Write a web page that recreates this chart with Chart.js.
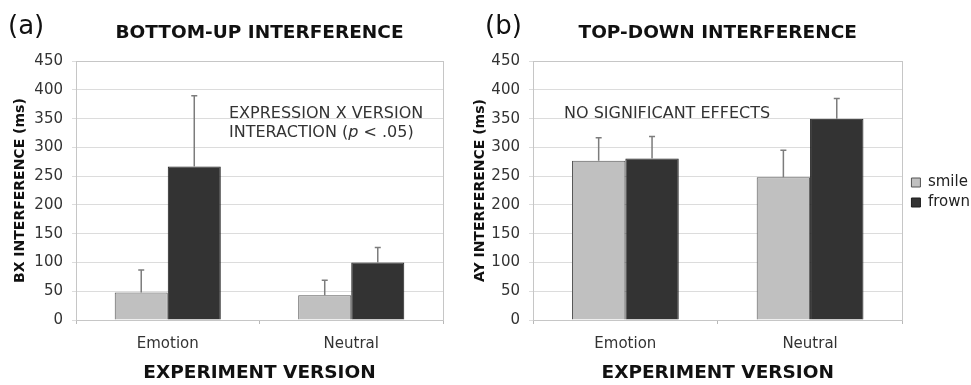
<!DOCTYPE html>
<html>
<head>
<meta charset="utf-8">
<script src="https://cdn.jsdelivr.net/npm/chart.js@4/dist/chart.umd.min.js"></script>
<style>
  html, body { margin: 0; padding: 0; background: #fff; overflow: hidden; width: 971px; height: 385px; }
  .panel { position: absolute; top: 0; height: 385px; }
  #pa { left: 0; width: 460px; }
  #pb { left: 460px; width: 540px; }
</style>
</head>
<body>
<div class="panel" id="pa"><canvas id="ca"></canvas></div>
<div class="panel" id="pb"><canvas id="cb"></canvas></div>
<script>
// Experiment versions on the x axis
const versions = ['Emotion', 'Neutral'];
const expressions = ['smile', 'frown'];

// (a) Bottom-up (BX) interference, ms, with upper error
const bxSmile = [48, 43];
const bxFrown = [267, 100];
const bxSmileErr = [39, 26];
const bxFrownErr = [123, 26];

// (b) Top-down (AY) interference, ms, with upper error
const aySmile = [277, 248];
const ayFrown = [281, 350];
const aySmileErr = [40, 47];
const ayFrownErr = [38, 35];

// Shared value axis
const yMin = 0;
const yMax = 450;
const yStep = 50;

Chart.defaults.font.family = "'DejaVu Sans', Verdana, sans-serif";
Chart.defaults.color = '#333';

const SMILE_FILL = '#c0c0c0', SMILE_EDGE = '#555555';
const FROWN_FILL = '#333333', FROWN_EDGE = '#1c1c1c';

// Upper-only error whiskers with a short cap
const errorBars = {
  id: 'errorBars',
  afterDatasetsDraw(chart) {
    const ctx = chart.ctx;
    const y = chart.scales.y;
    ctx.save();
    ctx.strokeStyle = '#7c7c7c';
    ctx.lineWidth = 1.5;
    chart.data.datasets.forEach((ds, di) => {
      const meta = chart.getDatasetMeta(di);
      meta.data.forEach((bar, i) => {
        const top = y.getPixelForValue(ds.data[i] + ds.errors[i]);
        ctx.beginPath();
        ctx.moveTo(bar.x, bar.y);
        ctx.lineTo(bar.x, top);
        ctx.moveTo(bar.x - 3, top);
        ctx.lineTo(bar.x + 3, top);
        ctx.stroke();
      });
    });
    ctx.restore();
  }
};

// Grey frame around the plotting area
const plotFrame = {
  id: 'plotFrame',
  beforeDatasetsDraw(chart) {
    const {ctx, chartArea: a} = chart;
    ctx.save();
    ctx.strokeStyle = '#c6c6c6';
    ctx.lineWidth = 1;
    ctx.strokeRect(Math.round(a.left) + 0.5, Math.round(a.top) + 0.5,
                   Math.round(a.right - a.left), Math.round(a.bottom - a.top));
    ctx.restore();
  }
};

// Small horizontal nudge of the legend block away from the plot
const legendNudge = {
  id: 'legendNudge',
  afterLayout(chart, args, opts) {
    const lg = chart.legend;
    if (lg && opts.dx) {
      lg.left += opts.dx;
      lg.right += opts.dx;
    }
  }
};

// Panel letter and in-plot note
const panelText = {
  id: 'panelText',
  afterDraw(chart, args, opts) {
    const ctx = chart.ctx;
    const a = chart.chartArea;
    const y = chart.scales.y;
    ctx.save();
    ctx.fillStyle = '#111';
    ctx.textBaseline = 'middle';
    ctx.textAlign = 'left';
    ctx.font = "26px 'DejaVu Sans'";
    ctx.fillText(opts.letter, opts.letterX, opts.letterY);
    ctx.fillStyle = '#333';
    opts.lines.forEach((segs, li) => {
      let x = a.left + opts.noteX;
      const py = y.getPixelForValue(opts.noteValues[li]);
      segs.forEach(s => {
        ctx.font = (s.italic ? 'italic ' : '') + "16px 'DejaVu Sans'";
        ctx.fillText(s.text, x, py);
        x += ctx.measureText(s.text).width;
      });
    });
    ctx.restore();
  }
};

function makeChart(canvasId, cfg) {
  return new Chart(document.getElementById(canvasId), {
    type: 'bar',
    data: {
      labels: versions,
      datasets: [
        { label: expressions[0], data: cfg.smile, errors: cfg.smileErr,
          backgroundColor: SMILE_FILL, borderColor: SMILE_EDGE, borderWidth: 1 },
        { label: expressions[1], data: cfg.frown, errors: cfg.frownErr,
          backgroundColor: FROWN_FILL, borderColor: FROWN_EDGE, borderWidth: 1 }
      ]
    },
    options: {
      responsive: true,
      maintainAspectRatio: false,
      animation: false,
      layout: { padding: { left: 0, right: cfg.padRight, top: 0, bottom: 0 } },
      datasets: { bar: { barPercentage: 1, categoryPercentage: 0.578 } },
      scales: {
        x: {
          grid: { display: true, drawOnChartArea: false, tickLength: 4, color: '#b8b8b8', offset: true },
          border: { display: true, color: '#c6c6c6' },
          ticks: { font: { size: 15 }, color: '#333', padding: 11 },
          title: { display: true, text: 'EXPERIMENT VERSION', color: '#111',
                   font: { size: 18.5, weight: 'bold' }, padding: { top: 0, bottom: 1 } },
          afterFit(scale) { scale.height = 65; }
        },
        y: {
          min: yMin, max: yMax,
          grid: { color: '#dcdcdc', tickLength: 4, drawTicks: true },
          border: { display: true, color: '#c6c6c6' },
          ticks: { stepSize: yStep, font: { size: 15 }, color: '#333', padding: 9 },
          title: { display: true, text: cfg.yTitle, color: '#111',
                   font: { size: 14, weight: 'bold' }, padding: { top: 11.6, bottom: 0 } },
          afterFit(scale) { scale.width = cfg.yWidth; }
        }
      },
      plugins: {
        title: { display: true, text: cfg.title, color: '#111', fullSize: false,
                 font: { size: 18.5, weight: 'bold' }, padding: { top: 22, bottom: 17 } },
        legend: cfg.legend
          ? { display: true, position: 'right', align: 'center',
              labels: { boxWidth: 9, boxHeight: 9, padding: 5, color: '#222', font: { size: 15 } } }
          : { display: false },
        legendNudge: { dx: cfg.legendDx || 0 },
        tooltip: { enabled: false },
        panelText: cfg.note
      }
    },
    plugins: [plotFrame, errorBars, panelText, legendNudge]
  });
}

makeChart('ca', {
  smile: bxSmile, frown: bxFrown, smileErr: bxSmileErr, frownErr: bxFrownErr,
  title: 'BOTTOM-UP INTERFERENCE', yTitle: 'BX INTERFERENCE (ms)',
  yWidth: 76, padRight: 17, legend: false,
  note: {
    letter: '(a)', letterX: 8, letterY: 27, noteX: 153, noteValues: [358, 325],
    lines: [
      [{ text: 'EXPRESSION X VERSION' }],
      [{ text: 'INTERACTION (' }, { text: 'p', italic: true }, { text: ' < .05)' }]
    ]
  }
});

makeChart('cb', {
  smile: aySmile, frown: ayFrown, smileErr: aySmileErr, frownErr: ayFrownErr,
  title: 'TOP-DOWN INTERFERENCE', yTitle: 'AY INTERFERENCE (ms)',
  yWidth: 73, padRight: 24, legend: true, legendDx: 4,
  note: {
    letter: '(b)', letterX: 25, letterY: 27, noteX: 31, noteValues: [358],
    lines: [[{ text: 'NO SIGNIFICANT EFFECTS' }]]
  }
});
</script>
</body>
</html>
